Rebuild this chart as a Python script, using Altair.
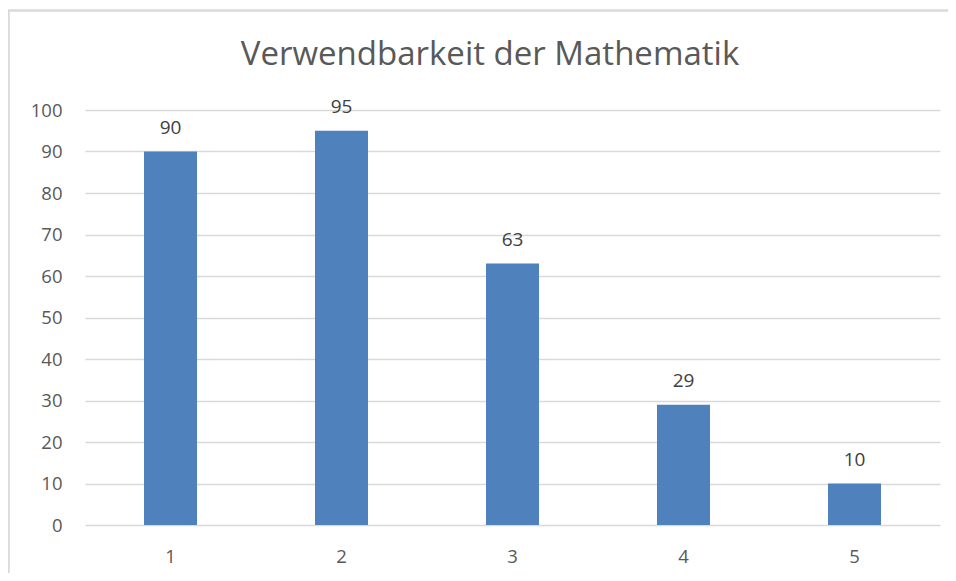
import altair as alt
import pandas as pd

categories = ["1", "2", "3", "4", "5"]
values = [90, 95, 63, 29, 10]

df = pd.DataFrame({"cat": categories, "val": values})

FONT = "Open Sans"
GRID = "#D9D9D9"

base = alt.Chart(df)

bars = base.mark_bar(color="#4F81BD").encode(
    x=alt.X("cat:N", sort=categories,
            scale=alt.Scale(paddingInner=0.69, paddingOuter=0.345),
            axis=alt.Axis(title=None, labelAngle=0, labelFont=FONT, labelFontSize=18.5,
                          labelColor="#595959", labelPadding=22, ticks=False,
                          domain=False, grid=False)),
    y=alt.Y("val:Q", scale=alt.Scale(domain=[0, 100]),
            axis=alt.Axis(title=None, values=list(range(0, 101, 10)), labelFont=FONT,
                          labelFontSize=18.5, labelColor="#595959", labelPadding=23,
                          ticks=False, domain=False, grid=True, gridColor=GRID,
                          gridWidth=1.3)),
)

labels = base.mark_text(font=FONT, fontSize=19, color="#404040", baseline="alphabetic",
                        dy=-18).encode(
    x=alt.X("cat:N", sort=categories),
    y=alt.Y("val:Q"),
    text=alt.Text("val:Q"),
)

border = base.mark_rect(fill=None, stroke=GRID, strokeWidth=1.5, clip=False).encode(
    x=alt.value(-76.5), x2=alt.value(1000), y=alt.value(-99.5), y2=alt.value(700)
)

chart = alt.layer(border, bars, labels).properties(
    width=855,
    height=415,
    background="white",
    autosize=alt.AutoSizeParams(type="none"),
    padding={"left": 77, "top": 102, "right": 8, "bottom": 48},
    title=alt.TitleParams("Verwendbarkeit der Mathematik", font=FONT, fontSize=33,
                          fontWeight="normal", color="#595959", anchor="middle",
                          frame="group", dx=-22.5, dy=88, offset=0,
                          baseline="alphabetic"),
).configure_view(strokeWidth=0)

chart.save("out.html", embed_options={"renderer": "svg", "actions": False})
